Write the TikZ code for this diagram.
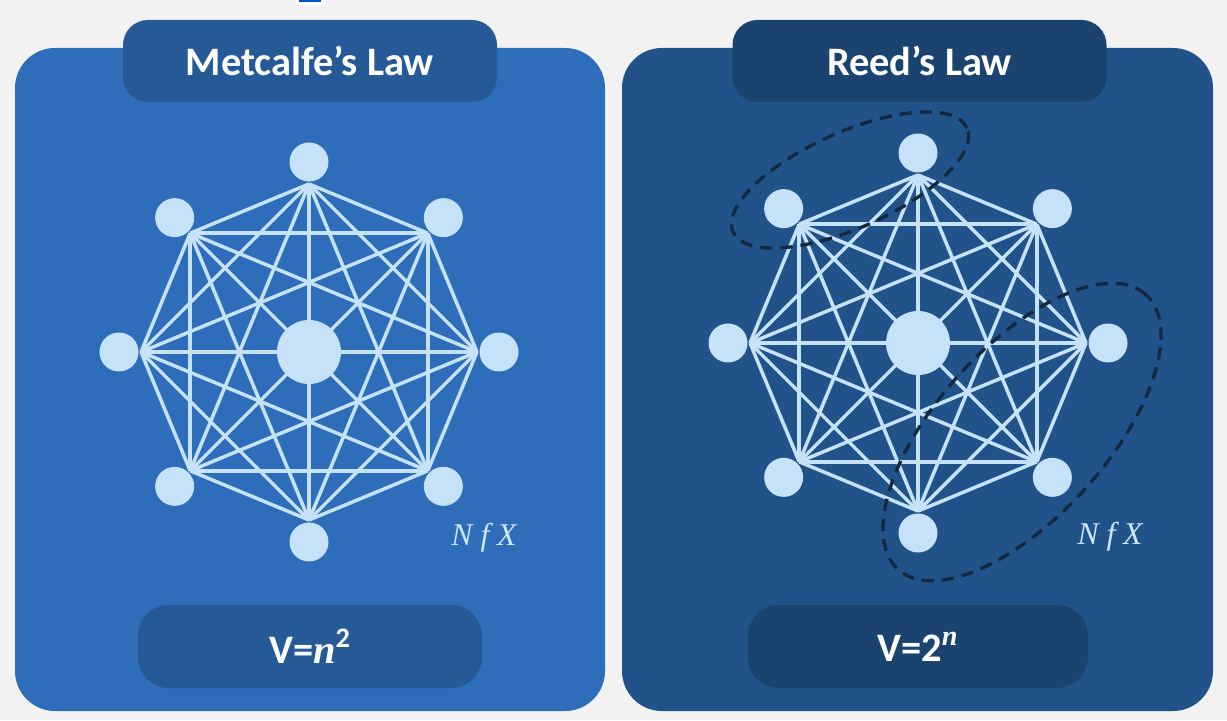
\documentclass[tikz,border=0pt]{standalone}
\usepackage{fontspec}
\setmainfont{Carlito}
\newfontfamily\serifx{Liberation Serif}
\usetikzlibrary{positioning}

\definecolor{bggray}{HTML}{F2F2F2}
\definecolor{panelA}{HTML}{2E6DBA}
\definecolor{tabA}{HTML}{255A96}
\definecolor{panelB}{HTML}{21528A}
\definecolor{tabB}{HTML}{1B4370}
\definecolor{netcol}{HTML}{C5E2F8}
\definecolor{dashcol}{HTML}{14283F}

\begin{document}
\begin{tikzpicture}[
    panel/.style={rounded corners=0.8cm},
    tab/.style={rounded corners=0.5cm, minimum width=7.48cm, minimum height=1.64cm,
                inner sep=0pt, text=white, font=\fontsize{23}{27}\selectfont\bfseries},
    formula/.style={rounded corners=0.62cm, minimum height=1.66cm,
                inner sep=0pt, text=white, font=\fontsize{23}{27}\selectfont\bfseries},
    dot/.style={circle, fill=netcol, inner sep=0pt, minimum size=0.78cm},
    hub/.style={circle, fill=netcol, inner sep=0pt, minimum size=1.28cm},
    link/.style={draw=netcol, line width=2pt},
    group/.style={draw=dashcol, line width=1.9pt, dash pattern=on 7pt off 4.5pt},
    credit/.style={text=netcol!85!white, font=\serifx\itshape\fontsize{18}{21}\selectfont},
]
\useasboundingbox (0,0) rectangle (24.54,14.4);
\fill[bggray] (0,0) rectangle (24.54,14.4);
\fill[white] (5.92,14.3) rectangle (6.48,14.4);
\fill[blue!60!cyan!80!black] (5.98,14.36) rectangle (6.42,14.4);

% two panels
\fill[panelA, panel] (0.30,0.18) rectangle (12.10,13.44);
\fill[panelB, panel] (12.44,0.18) rectangle (24.26,13.44);

\node[tab, fill=tabA] (mtitle) at (6.20,13.18) {Metcalfe’s Law};
\node[tab, fill=tabB] (rtitle) at (18.39,13.18) {Reed’s Law};

\node[formula, fill=tabA, minimum width=6.88cm] (mformula) at (6.20,1.47)
   {V={\serifx\bfseries\itshape n}\textsuperscript{2}};
\node[formula, fill=tabB, minimum width=6.80cm] (rformula) at (18.36,1.47)
   {V=2\textsuperscript{\serifx\bfseries\itshape n}};

% full mesh of eight users round a hub
\foreach \g/\cx/\cy in {m/6.18/7.36, r/18.36/7.54} {
  \foreach \i in {1,...,8} {
    \pgfmathsetmacro{\a}{45*\i}
    \coordinate (\g v\i) at ([shift={(\cx,\cy)}] \a:3.36);
    \node[dot] (\g n\i) at ([shift={(\cx,\cy)}] \a:3.8) {};
  }
  \foreach \i in {1,...,8}
    \foreach \j in {\i,...,8} {
      \ifnum\j>\i \draw[link] (\g v\i) -- (\g v\j); \fi
    }
  \node[hub] (\g hub) at (\cx,\cy) {};
}

% groups (Reed)
\draw[group, rotate around={24:(17.0,10.8)}] (17.0,10.8) ellipse [x radius=2.56, y radius=0.96];
\draw[group, rotate around={48:(20.44,5.76)}] (20.44,5.76) ellipse [x radius=3.7, y radius=1.7];

\node[credit] (mcredit) at (9.68,3.64) {N f X};
\node[credit] (rcredit) at (22.20,3.66) {N f X};
\end{tikzpicture}
\end{document}
